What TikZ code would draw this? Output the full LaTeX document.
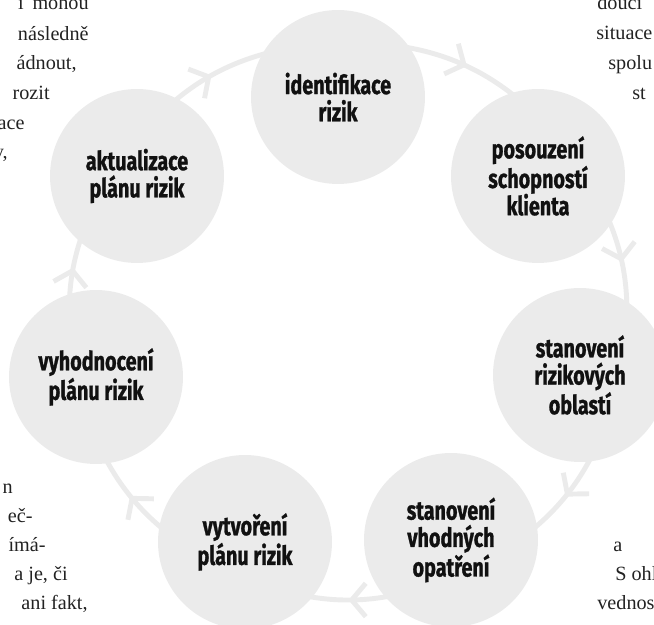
\documentclass[tikz,border=0pt]{standalone}
\usepackage{fontspec}
\setmainfont{Liberation Serif}
\newfontfamily\condfont[FakeStretch=0.75, BoldFeatures={FakeBold=1}]{Fira Sans}
\usepackage{tikz}
\usetikzlibrary{arrows.meta,decorations.markings}
\definecolor{figcircle}{HTML}{EBEBEB}
\definecolor{figring}{HTML}{EBEBEB}
\definecolor{figink}{HTML}{111111}
\definecolor{figpage}{HTML}{222222}

\begin{document}
\begin{tikzpicture}[x=0.02cm, y=0.02cm,
  stage/.style={circle, fill=figcircle, minimum size=3.48cm, inner sep=0pt, align=center,
                text=figink, font=\condfont\bfseries\fontsize{15}{15.5}\selectfont},
  ring/.style={draw=figring, line width=2.8pt, line cap=round, postaction={decorate},
               decoration={markings, mark=at position 0.5 with
                 {\arrow[line width=2.8pt, line cap=round, line join=round]{Straight Barb[length=8pt, width=19pt]}}}},
  pagetext/.style={font=\fontsize{11.5}{14}\selectfont, text=figpage, inner sep=0pt}]
\useasboundingbox (0,0) rectangle (654,625);
\coordinate (hub) at (348,305);
\path (hub) ++(92.6:5.54cm)   coordinate (r1);
\path (hub) ++(37.2:5.54cm)   coordinate (r2);
\path (hub) ++(-13.3:5.54cm)  coordinate (r3);
\path (hub) ++(-64.9:5.54cm)  coordinate (r4);
\path (hub) ++(-114.9:5.54cm) coordinate (r5);
\path (hub) ++(-167.3:5.54cm) coordinate (r6);
\path (hub) ++(145.7:5.54cm)  coordinate (r7);
\draw[ring] (r1) to[bend left=27.7] (r2);
\draw[ring] (r2) to[bend left=25.3] (r3);
\draw[ring] (r3) to[bend left=25.8] (r4);
\draw[ring] (r4) to[bend left=25]   (r5);
\draw[ring] (r5) to[bend left=26.2] (r6);
\draw[ring] (r6) to[bend left=23.5] (r7);
\draw[ring] (r7) to[bend left=26.6] (r1);
\node[stage] (ident)    at (338,528) {identifikace\\rizik};
\node[stage] (posouz)   at (538,449) {posouzení\\schopností\\klienta};
\node[stage] (oblasti)  at (580,250) {stanovení\\rizikových\\oblastí};
\node[stage] (opatreni) at (451,85)  {stanovení\\vhodných\\opatření};
\node[stage] (vytvor)   at (245,83)  {vytvoření\\plánu rizik};
\node[stage] (vyhodn)   at (96,248)  {vyhodnocení\\plánu rizik};
\node[stage] (aktual)   at (137,449) {aktualizace\\plánu rizik};
\node[pagetext, anchor=base east] (lt1) at (89,615) {í\hspace{5pt}mohou};
\node[pagetext, anchor=base east] (lt2) at (89,584) {následně};
\node[pagetext, anchor=base east] (lt3) at (77,555) {ádnout,};
\node[pagetext, anchor=base east] (lt4) at (50,525) {rozit};
\node[pagetext, anchor=base east] (lt5) at (25,495) {ace};
\node[pagetext, anchor=base east] (lt6) at (8,466)  {y,};
\node[pagetext, anchor=base east] (lb1) at (13,131) {n};
\node[pagetext, anchor=base east] (lb2) at (33,102) {eč-};
\node[pagetext, anchor=base east] (lb3) at (46,73)  {ímá-};
\node[pagetext, anchor=base east] (lb4) at (68,44)  {a je, či};
\node[pagetext, anchor=base east] (lb5) at (88,15)  {ani fakt,};
\node[pagetext, anchor=base west] (rt1) at (597,615) {doucí};
\node[pagetext, anchor=base west] (rt2) at (596,585) {situace};
\node[pagetext, anchor=base west] (rt3) at (608,555) {spolu};
\node[pagetext, anchor=base west] (rt4) at (632,525) {st};
\node[pagetext, anchor=base west] (rb1) at (613,73) {a};
\node[pagetext, anchor=base west] (rb2) at (615,44) {S ohledem};
\node[pagetext, anchor=base west] (rb3) at (597,15) {vednost};
\end{tikzpicture}
\end{document}
